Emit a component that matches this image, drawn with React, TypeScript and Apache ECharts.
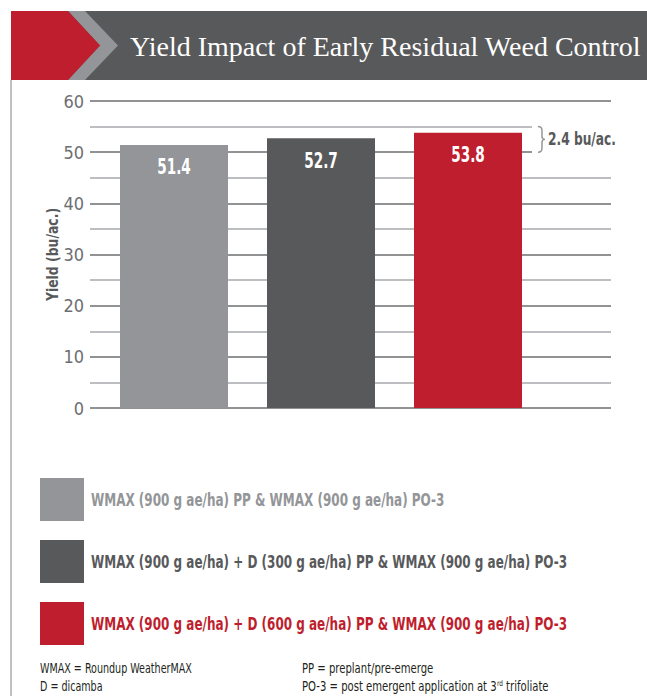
import React, { useEffect, useRef } from "react";
import * as echarts from "echarts";

const title = "Yield Impact of Early Residual Weed Control";
const categories = [
  "WMAX (900 g ae/ha) PP & WMAX (900 g ae/ha) PO-3",
  "WMAX (900 g ae/ha) + D (300 g ae/ha) PP & WMAX (900 g ae/ha) PO-3",
  "WMAX (900 g ae/ha) + D (600 g ae/ha) PP & WMAX (900 g ae/ha) PO-3",
];
const yields = [51.4, 52.7, 53.8];
const barColors = ["#939598", "#58595b", "#be1e2d"];
const yAxisName = "Yield (bu/ac.)";
const yMin = 0;
const yMax = 60;
const yStep = 5;
const gapRange = [50, 55];
const gapLabel = "2.4 bu/ac.";
const notesLeft = ["WMAX = Roundup WeatherMAX", "D = dicamba"];
const notesRight = ["PP = preplant/pre-emerge", "PO-3 = post emergent application at 3", "rd", " trifoliate"];

const NARROW = "'DejaVu Sans Condensed', 'Roboto', sans-serif";

echarts.graphic.registerShape(
  "brace",
  echarts.graphic.extendPath("M0,0 Q4,0 4,4 L4,10 Q4,13 7,13 Q4,13 4,16 L4,22 Q4,26 0,26", {})
);

export default function App() {
  const ref = useRef<HTMLDivElement>(null);
  useEffect(() => {
    if (!ref.current) return;
    const chart = echarts.init(ref.current, null, { renderer: "svg" });
    const gridTop = 101;
    const gridH = 307;
    const option: any = {
      animation: false,
      grid: [
        { left: 90, top: gridTop, width: 521, height: gridH },
        { left: 100.5, top: gridTop, width: 441, height: gridH },
      ],
      xAxis: [
        { gridIndex: 0, type: "value", min: 0, max: 1, show: false },
        { gridIndex: 1, type: "category", data: categories, show: false },
      ],
      yAxis: [
        {
          gridIndex: 0,
          type: "value",
          min: yMin,
          max: yMax,
          interval: yStep,
          axisLine: { show: false },
          axisTick: { show: false },
          axisLabel: {
            margin: 6,
            fontFamily: NARROW,
            fontSize: 18,
            color: "#6d6e71",
            formatter: (v: number) => (v % 10 === 0 ? String(v) : ""),
          },
          splitLine: { lineStyle: { color: ["#6d6e71", "#a7a9ac"], width: 1.5 } },
        },
        { gridIndex: 1, type: "value", min: yMin, max: yMax, show: false },
      ],
      series: [
        {
          type: "bar",
          xAxisIndex: 1,
          yAxisIndex: 1,
          barWidth: 108,
          z: 3,
          data: yields.map((v, i) => ({ value: v, itemStyle: { color: barColors[i] } })),
          label: { show: false },
        },
      ],
    };
    chart.setOption(option);

    const yHi = chart.convertToPixel({ yAxisIndex: 0 }, gapRange[1]) as number;
    const yLo = chart.convertToPixel({ yAxisIndex: 0 }, gapRange[0]) as number;
    const yMid = chart.convertToPixel({ yAxisIndex: 0 }, (yMin + yMax) / 2) as number;
    const rightEdge = chart.convertToPixel({ xAxisIndex: 1 }, categories[2]) as number;
    const braceX = rightEdge + 70;

    const graphics: any[] = [
      // header
      { type: "rect", shape: { x: 11, y: 11, width: 640, height: 69 }, style: { fill: "#58595b" }, z: 20 },
      {
        type: "polygon",
        shape: { points: [[68, 11], [85, 11], [118, 45.5], [85, 80], [68, 80], [100, 45.5]] },
        style: { fill: "#939598" },
        z: 21,
      },
      {
        type: "polygon",
        shape: { points: [[11, 11], [68, 11], [100, 45.5], [68, 80], [11, 80]] },
        style: { fill: "#be1e2d" },
        z: 21,
      },
      {
        type: "text",
        x: 130,
        y: 46,
        style: {
          text: title,
          fill: "#ffffff",
          font: "28px 'Liberation Serif', 'DejaVu Serif', serif",
          verticalAlign: "middle",
        },
        z: 22,
      },
      // left border
      { type: "line", shape: { x1: 11, y1: 80, x2: 11, y2: 696 }, style: { stroke: "#808285", lineWidth: 1 }, z: 20 },
      // y axis name
      {
        type: "text",
        x: 53,
        y: yMid,
        rotation: Math.PI / 2,
        scaleX: 0.92,
        style: {
          text: yAxisName,
          fill: "#58595b",
          font: `bold 15px ${NARROW}`,
          align: "center",
          verticalAlign: "middle",
        },
        z: 10,
      },
      // gap annotation
      {
        type: "rect",
        shape: { x: braceX - 6, y: yHi - 3, width: 100, height: yLo - yHi + 6 },
        style: { fill: "#ffffff" },
        z: 10,
      },
      {
        type: "brace",
        x: braceX,
        y: yHi,
        scaleY: (yLo - yHi) / 26,
        style: { stroke: "#939598", fill: "none", lineWidth: 1.5 },
        z: 11,
      },
      {
        type: "text",
        x: braceX + 10,
        y: (yHi + yLo) / 2,
        scaleX: 0.8,
        style: {
          text: gapLabel,
          fill: "#58595b",
          font: `bold 17px ${NARROW}`,
          verticalAlign: "middle",
        },
        z: 11,
      },
    ];

    // bar value labels
    yields.forEach((v, i) => {
      const [px, py] = chart.convertToPixel({ xAxisIndex: 1, yAxisIndex: 1 }, [i, v]) as number[];
      graphics.push({
        type: "text",
        x: px,
        y: py + 22,
        scaleX: 0.72,
        style: {
          text: v.toFixed(1),
          fill: "#ffffff",
          font: `bold 21px ${NARROW}`,
          align: "center",
          verticalAlign: "middle",
        },
        z: 12,
      });
    });

    // legend
    categories.forEach((c, i) => {
      const y = 478 + i * 62;
      graphics.push({ type: "rect", shape: { x: 40, y, width: 44, height: 43 }, style: { fill: barColors[i] }, z: 10 });
      graphics.push({
        type: "text",
        x: 91,
        y: y + 22,
        scaleX: 0.785,
        style: { text: c, fill: barColors[i], font: `bold 17px ${NARROW}`, verticalAlign: "middle" },
        z: 10,
      });
    });

    // footnotes
    notesLeft.forEach((t, i) => {
      graphics.push({
        type: "text",
        x: 40,
        y: 668 + i * 18,
        scaleX: 0.76,
        style: { text: t, fill: "#231f20", font: `14px ${NARROW}`, verticalAlign: "middle" },
        z: 10,
      });
    });
    graphics.push({
      type: "text",
      x: 302,
      y: 668,
      scaleX: 0.8,
      style: { text: notesRight[0], fill: "#231f20", font: `14px ${NARROW}`, verticalAlign: "middle" },
      z: 10,
    });
    graphics.push({
      type: "text",
      x: 302,
      y: 686,
      scaleX: 0.8,
      style: {
        text: `{n|${notesRight[1]}}{s|${notesRight[2]}}{n|${notesRight[3]}}`,
        verticalAlign: "middle",
        rich: {
          n: { fill: "#231f20", fontFamily: NARROW, fontSize: 14 },
          s: { fill: "#231f20", fontFamily: NARROW, fontSize: 8, verticalAlign: "top", padding: [0, 0, 6, 0] },
        },
      },
      z: 10,
    });

    chart.setOption({ graphic: graphics });
    return () => chart.dispose();
  }, []);
  return <div ref={ref} style={{ position: "absolute", left: 0, top: 0, width: 647, height: 696 }} />;
}
